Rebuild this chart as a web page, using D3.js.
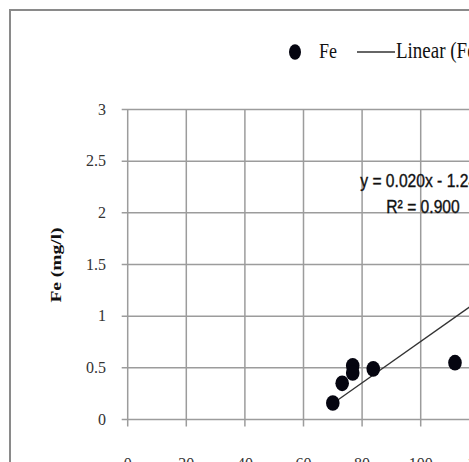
<!DOCTYPE html>
<html>
<head>
<meta charset="utf-8">
<script src="https://cdn.jsdelivr.net/npm/d3@7"></script>
<style>
  body { margin: 0; background: #fff; }
  svg { display: block; }
</style>
</head>
<body>
<div id="chart"></div>
<script>
// data
var feX = [70, 73.2, 76.8, 76.8, 83.8, 111.7];
var feY = [0.16, 0.35, 0.52, 0.45, 0.49, 0.55];
var xTicks = [0, 20, 40, 60, 80, 100, 120, 140];
var yTicks = [0, 0.5, 1, 1.5, 2, 2.5, 3];
var trendSlope = 0.020;
var trendIntercept = -1.245;
var trendRange = [70, 150];
var legendLabels = ["Fe", "Linear (Fe)"];
var equationLines = ["y = 0.020x - 1.245", "R\u00b2 = 0.900"];

var width = 469,
    height = 462;

var svg = d3.select("#chart")
  .append("svg")
  .attr("width", width)
  .attr("height", height);

// outer chart border (continues past the crop)
svg.append("rect")
  .attr("x", 10)
  .attr("y", 10)
  .attr("width", 700)
  .attr("height", 600)
  .attr("fill", "#fff")
  .attr("stroke", "#8a8a8a")
  .attr("stroke-width", 2);

var x = d3.scaleLinear().domain([0, 140]).range([127.7, 127.7 + 140 * 2.93]);
var y = d3.scaleLinear().domain([0, 3]).range([419.5, 109.5]);

var grid = svg.append("g");

// horizontal gridlines + tick stubs on the left
grid.selectAll(".hgrid")
  .data(yTicks)
  .enter().append("line")
  .attr("x1", x(0) - 6)
  .attr("x2", x(140))
  .attr("y1", function(d) { return y(d); })
  .attr("y2", function(d) { return y(d); })
  .attr("stroke", "#9c9c9c")
  .attr("stroke-width", 1.5);

// vertical gridlines + tick stubs below
grid.selectAll(".vgrid")
  .data(xTicks)
  .enter().append("line")
  .attr("x1", function(d) { return x(d); })
  .attr("x2", function(d) { return x(d); })
  .attr("y1", y(3))
  .attr("y2", y(0) + 7)
  .attr("stroke", "#9c9c9c")
  .attr("stroke-width", 1.5);

// y tick labels
svg.selectAll(".ylab")
  .data(yTicks)
  .enter().append("text")
  .attr("x", 106)
  .attr("y", function(d) { return y(d) + 5; })
  .attr("text-anchor", "end")
  .attr("font-family", "Liberation Serif, serif")
  .attr("font-size", 16)
  .attr("fill", "#333")
  .text(function(d) { return d; });

// x tick labels (mostly cut off at bottom, like the original)
svg.selectAll(".xlab")
  .data(xTicks)
  .enter().append("text")
  .attr("x", function(d) { return x(d); })
  .attr("y", 469)
  .attr("text-anchor", "middle")
  .attr("font-family", "Liberation Serif, serif")
  .attr("font-size", 16)
  .attr("fill", "#333")
  .text(function(d) { return d; });

// y axis title, stretched tall like the picture
svg.append("text")
  .attr("transform", "translate(61,265) scale(1,1.3) rotate(-90)")
  .attr("text-anchor", "middle")
  .attr("font-family", "Liberation Serif, serif")
  .attr("font-weight", "bold")
  .attr("font-size", 15)
  .attr("fill", "#111")
  .text("Fe (mg/l)");

// trend line
var trendData = trendRange.map(function(v) {
  return { x: v, y: trendSlope * v + trendIntercept };
});
svg.append("path")
  .datum(trendData)
  .attr("fill", "none")
  .attr("stroke", "#333")
  .attr("stroke-width", 1.3)
  .attr("d", d3.line()
    .x(function(d) { return x(d.x); })
    .y(function(d) { return y(d.y); }));

// points
svg.selectAll(".pt")
  .data(feX.map(function(v, i) { return { x: v, y: feY[i] }; }))
  .enter().append("ellipse")
  .attr("cx", function(d) { return x(d.x); })
  .attr("cy", function(d) { return y(d.y); })
  .attr("rx", 6.8)
  .attr("ry", 7.8)
  .attr("fill", "#050510");

// trendline equation
svg.selectAll(".eq")
  .data(equationLines)
  .enter().append("text")
  .attr("transform", function(d, i) { return "translate(423," + (187 + i * 26) + ") scale(0.92,1.1)"; })
  .attr("text-anchor", "middle")
  .attr("font-family", "Liberation Sans, sans-serif")
  .attr("font-size", 17)
  .attr("fill", "#111")
  .attr("stroke", "#111")
  .attr("stroke-width", 0.35)
  .text(function(d) { return d; });

// legend
var legend = svg.append("g");
legend.append("ellipse")
  .attr("cx", 295)
  .attr("cy", 52)
  .attr("rx", 6)
  .attr("ry", 7.8)
  .attr("fill", "#050510");
legend.append("text")
  .attr("transform", "translate(319,58) scale(1,1.2)")
  .attr("font-family", "Liberation Serif, serif")
  .attr("font-size", 18)
  .attr("fill", "#111")
  .text(legendLabels[0]);
legend.append("line")
  .attr("x1", 357)
  .attr("x2", 395)
  .attr("y1", 52)
  .attr("y2", 52)
  .attr("stroke", "#333")
  .attr("stroke-width", 1.3);
legend.append("text")
  .attr("transform", "translate(396,58) scale(1,1.2)")
  .attr("font-family", "Liberation Serif, serif")
  .attr("font-size", 19)
  .attr("fill", "#111")
  .text(legendLabels[1]);
</script>
</body>
</html>
